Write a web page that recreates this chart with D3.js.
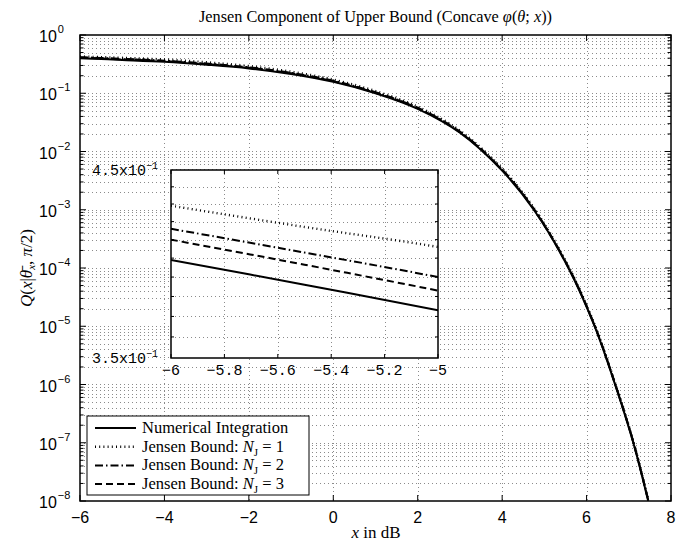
<!DOCTYPE html>
<html>
<head>
<meta charset="utf-8">
<script src="https://cdn.jsdelivr.net/npm/d3@7"></script>
<style>
  body { margin: 0; background: #fff; }
  svg { display: block; }
  .serif { font-family: "Liberation Serif", "DejaVu Serif", serif; }
  .sans { font-family: "Liberation Sans", Arial, sans-serif; }
  .mono { font-family: "Liberation Mono", "DejaVu Sans Mono", monospace; }
</style>
</head>
<body>
<div id="app"></div>
<script>
// values
var xdB = [-6, -5.5, -5, -4, -3, -2, -1, 0, 1, 2, 3, 4, 4.75, 5.57, 6.19, 6.675, 7.107, 7.46];
var numerical = [0.399, 0.386, 0.373, 0.347, 0.309, 0.267, 0.214, 0.157, 0.1, 0.054, 0.021, 0.0047, 1e-3, 1e-4, 1e-5, 1e-6, 1e-7, 1e-8];
var jensen1 = [0.429, 0.417, 0.406, 0.380, 0.340, 0.293, 0.235, 0.172, 0.109, 0.0588, 0.0228, 0.0051, 1.08e-3, 1.07e-4, 1.07e-5, 1.07e-6, 1.07e-7, 1.07e-8];
var jensen2 = [0.416, 0.403, 0.390, 0.363, 0.323, 0.279, 0.224, 0.164, 0.104, 0.0563, 0.0219, 0.0049, 1.04e-3, 1.04e-4, 1.04e-5, 1.04e-6, 1.04e-7, 1.04e-8];
var jensen3 = [0.410, 0.3965, 0.383, 0.356, 0.317, 0.274, 0.220, 0.161, 0.102, 0.0552, 0.0215, 0.0048, 1.02e-3, 1.02e-4, 1.02e-5, 1.02e-6, 1.02e-7, 1.02e-8];

var xTicks = [-6, -4, -2, 0, 2, 4, 6, 8];
var yDecades = [0, -1, -2, -3, -4, -5, -6, -7, -8];
var insetXTicks = [-6, -5.8, -5.6, -5.4, -5.2, -5];
var insetXLabels = ["\u22126", "\u22125.8", "\u22125.6", "\u22125.4", "\u22125.2", "\u22125"];
var insetYGrid = [0.36, 0.37, 0.38, 0.39, 0.40, 0.41, 0.42, 0.43, 0.44];
var insetYLabels = [{v: 0.45, m: "4.5x10"}, {v: 0.35, m: "3.5x10"}];

var seriesNames = ["Numerical Integration", "Jensen Bound: ", "Jensen Bound: ", "Jensen Bound: "];
var seriesN = [null, 1, 2, 3];
var seriesData = [numerical, jensen1, jensen2, jensen3];
var dashes = [null, "1,3.2", "8,3,1.5,3", "7,4"];
var widths = [2, 2.4, 2, 2];

var W = 698, H = 541;
var m = {left: 80, top: 35, right: 671, bottom: 501};
var ins = {left: 171, top: 170, right: 438, bottom: 358};

var svg = d3.select("#app").append("svg").attr("width", W).attr("height", H);

var x = d3.scaleLinear().domain([-6, 8]).range([m.left, m.right]);
var y = d3.scaleLog().domain([1e-8, 1]).range([m.bottom, m.top]);

var defs = svg.append("defs");
defs.append("clipPath").attr("id", "clipMain").append("rect")
  .attr("x", m.left).attr("y", m.top).attr("width", m.right - m.left).attr("height", m.bottom - m.top);
defs.append("clipPath").attr("id", "clipInset").append("rect")
  .attr("x", ins.left).attr("y", ins.top).attr("width", ins.right - ins.left).attr("height", ins.bottom - ins.top);

// minor values of the log axis
var yMinor = [];
yDecades.forEach(function(e) {
  if (e === 0) return;
  for (var k = 2; k <= 9; k++) yMinor.push(k * Math.pow(10, e));
});

var grid = svg.append("g").attr("stroke", "#000").attr("stroke-width", 1)
  .attr("stroke-dasharray", "1,3").attr("opacity", 0.45);
grid.selectAll("line.gx").data(xTicks.slice(1, -1)).enter().append("line")
  .attr("x1", function(d) { return Math.round(x(d)) + 0.5; })
  .attr("x2", function(d) { return Math.round(x(d)) + 0.5; })
  .attr("y1", m.top).attr("y2", m.bottom);
grid.selectAll("line.gy").data(yDecades.slice(1, -1).map(function(e) { return Math.pow(10, e); }).concat(yMinor))
  .enter().append("line")
  .attr("x1", m.left).attr("x2", m.right)
  .attr("y1", function(d) { return Math.round(y(d)) + 0.5; })
  .attr("y2", function(d) { return Math.round(y(d)) + 0.5; });

// curves
function drawLines(g, xs, ys, clip) {
  var line = d3.line()
    .x(function(d) { return xs(d[0]); })
    .y(function(d) { return ys(d[1]); })
    .curve(d3.curveCatmullRom.alpha(0.5));
  var order = [3, 2, 1, 0];
  order.forEach(function(i) {
    g.append("path")
      .attr("clip-path", "url(#" + clip + ")")
      .attr("d", line(xdB.map(function(v, j) { return [v, seriesData[i][j]]; })))
      .attr("fill", "none").attr("stroke", "#000")
      .attr("stroke-width", widths[i])
      .attr("stroke-dasharray", dashes[i]);
  });
}
drawLines(svg.append("g"), x, y, "clipMain");

// main axes box and ticks
var axes = svg.append("g").attr("stroke", "#000");
axes.append("rect").attr("x", m.left).attr("y", m.top)
  .attr("width", m.right - m.left).attr("height", m.bottom - m.top)
  .attr("fill", "none").attr("stroke-width", 1.5);
xTicks.forEach(function(t) {
  var px = x(t);
  axes.append("line").attr("x1", px).attr("x2", px).attr("y1", m.bottom).attr("y2", m.bottom - 6);
  axes.append("line").attr("x1", px).attr("x2", px).attr("y1", m.top).attr("y2", m.top + 6);
});
yDecades.forEach(function(e) {
  var py = y(Math.pow(10, e));
  axes.append("line").attr("x1", m.left).attr("x2", m.left + 6).attr("y1", py).attr("y2", py);
  axes.append("line").attr("x1", m.right).attr("x2", m.right - 6).attr("y1", py).attr("y2", py);
});
yMinor.forEach(function(v) {
  var py = y(v);
  axes.append("line").attr("x1", m.left).attr("x2", m.left + 3.5).attr("y1", py).attr("y2", py);
  axes.append("line").attr("x1", m.right).attr("x2", m.right - 3.5).attr("y1", py).attr("y2", py);
});

// tick labels
svg.append("g").attr("class", "sans").attr("font-size", 16).attr("text-anchor", "middle")
  .selectAll("text").data(xTicks).enter().append("text")
  .attr("x", function(d) { return x(d); }).attr("y", 523)
  .text(function(d) { return d < 0 ? "\u2212" + (-d) : d; });

var yl = svg.append("g").attr("class", "sans").attr("font-size", 16)
  .selectAll("text").data(yDecades).enter().append("text")
  .attr("x", 39).attr("y", function(d) { return y(Math.pow(10, d)) + 7; });
yl.append("tspan").text("10");
yl.append("tspan").attr("dy", -9).attr("dx", 1).attr("font-size", 11)
  .text(function(d) { return d < 0 ? "\u2212" + (-d) : d; });

// titles
svg.append("text").attr("class", "serif").attr("font-size", 16.3).attr("text-anchor", "middle")
  .attr("x", (m.left + m.right) / 2).attr("y", 22)
  .html("Jensen Component of Upper Bound (Concave <tspan font-style='italic'>\u03c6</tspan>(<tspan font-style='italic'>\u03b8</tspan>; <tspan font-style='italic'>x</tspan>))");
svg.append("text").attr("class", "serif").attr("font-size", 17).attr("text-anchor", "middle")
  .attr("x", 376).attr("y", 538)
  .html("<tspan font-style='italic'>x</tspan> in dB");
svg.append("text").attr("class", "serif").attr("font-size", 17).attr("text-anchor", "middle")
  .attr("transform", "translate(32," + ((m.top + m.bottom) / 2) + ") rotate(-90)")
  .html("<tspan font-style='italic'>Q</tspan>(<tspan font-style='italic'>x</tspan>|<tspan font-style='italic'>\u03b8\u0304</tspan><tspan font-style='italic' font-size='11' dy='3'>x</tspan><tspan dy='-3'>, </tspan><tspan font-style='italic'>\u03c0</tspan>/2)");

// inset
var ix = d3.scaleLinear().domain([-6, -5]).range([ins.left, ins.right]);
var iy = d3.scaleLog().domain([0.35, 0.45]).range([ins.bottom, ins.top]);
var inset = svg.append("g");
inset.append("rect").attr("x", ins.left).attr("y", ins.top)
  .attr("width", ins.right - ins.left).attr("height", ins.bottom - ins.top).attr("fill", "#fff");
var igrid = inset.append("g").attr("stroke", "#000").attr("stroke-width", 1)
  .attr("stroke-dasharray", "1,3").attr("opacity", 0.45);
igrid.selectAll("line.gx").data(insetXTicks.slice(1, -1)).enter().append("line")
  .attr("x1", function(d) { return Math.round(ix(d)) + 0.5; })
  .attr("x2", function(d) { return Math.round(ix(d)) + 0.5; })
  .attr("y1", ins.top).attr("y2", ins.bottom);
igrid.selectAll("line.gy").data(insetYGrid).enter().append("line")
  .attr("x1", ins.left).attr("x2", ins.right)
  .attr("y1", function(d) { return Math.round(iy(d)) + 0.5; })
  .attr("y2", function(d) { return Math.round(iy(d)) + 0.5; });
drawLines(inset.append("g"), ix, iy, "clipInset");
var iaxes = inset.append("g").attr("stroke", "#000");
iaxes.append("rect").attr("x", ins.left).attr("y", ins.top)
  .attr("width", ins.right - ins.left).attr("height", ins.bottom - ins.top)
  .attr("fill", "none").attr("stroke-width", 1.5);
insetXTicks.forEach(function(t) {
  iaxes.append("line").attr("x1", ix(t)).attr("x2", ix(t)).attr("y1", ins.bottom).attr("y2", ins.bottom - 4);
  iaxes.append("line").attr("x1", ix(t)).attr("x2", ix(t)).attr("y1", ins.top).attr("y2", ins.top + 4);
});
insetYGrid.forEach(function(v) {
  iaxes.append("line").attr("x1", ins.left).attr("x2", ins.left + 3).attr("y1", iy(v)).attr("y2", iy(v));
  iaxes.append("line").attr("x1", ins.right).attr("x2", ins.right - 3).attr("y1", iy(v)).attr("y2", iy(v));
});
inset.append("g").attr("class", "mono").attr("font-size", 15).attr("text-anchor", "middle")
  .selectAll("text").data(insetXTicks).enter().append("text")
  .attr("x", function(d) { return ix(d); }).attr("y", 375)
  .text(function(d, i) { return insetXLabels[i]; });
var iyl = inset.append("g").attr("class", "mono").attr("font-size", 15)
  .selectAll("text").data(insetYLabels).enter().append("text")
  .attr("x", 92).attr("y", function(d) { return iy(d.v) + 5; });
iyl.append("tspan").text(function(d) { return d.m; });
iyl.append("tspan").attr("dy", -6).attr("font-size", 10).text("\u22121");

// legend
var lg = svg.append("g");
lg.append("rect").attr("x", 87).attr("y", 416).attr("width", 222).attr("height", 79)
  .attr("fill", "#fff").attr("stroke", "#000").attr("stroke-width", 1);
var rows = lg.selectAll("g.row").data(seriesNames).enter().append("g")
  .attr("transform", function(d, i) { return "translate(0," + (428 + i * 18.7) + ")"; });
rows.append("line").attr("x1", 95).attr("x2", 136).attr("y1", 0).attr("y2", 0)
  .attr("stroke", "#000")
  .attr("stroke-width", function(d, i) { return widths[i]; })
  .attr("stroke-dasharray", function(d, i) { return dashes[i]; });
var rt = rows.append("text").attr("class", "serif").attr("font-size", 16.5)
  .attr("x", 142).attr("y", 5);
rt.append("tspan").text(function(d) { return d; });
rt.filter(function(d, i) { return seriesN[i] !== null; }).each(function(d, i) {
  var t = d3.select(this);
  var n = seriesN[i + 1];
  t.append("tspan").attr("font-style", "italic").text("N");
  t.append("tspan").attr("font-size", 11).attr("dy", 4).text("J");
  t.append("tspan").attr("dy", -4).text(" = " + n);
});
</script>
</body>
</html>
